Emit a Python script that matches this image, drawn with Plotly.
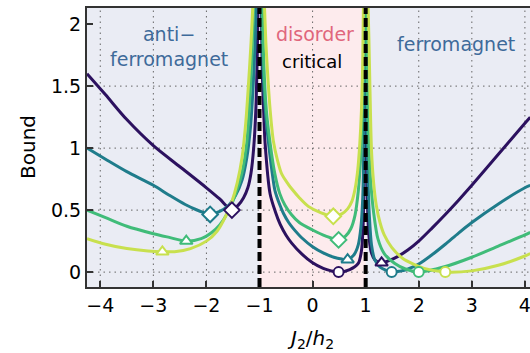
import plotly.graph_objects as go

# ---------------- data ----------------
# each curve has three branches: left (x<-1), middle (-1<x<1), right (x>1)
dark_left_x = [-4.25, -3.9, -3.5, -3.0, -2.5, -2.0, -1.75, -1.52, -1.40, -1.30, -1.22, -1.16, -1.11, -1.07, -1.04, -1.02]
dark_left_y = [1.60, 1.43, 1.23, 1.02, 0.85, 0.68, 0.59, 0.50, 0.54, 0.60, 0.68, 0.80, 1.00, 1.30, 1.80, 2.40]
dark_mid_x = [-0.97, -0.945, -0.92, -0.895, -0.80, -0.70, -0.61, -0.50, -0.39, -0.20, 0.0, 0.20, 0.35, 0.49, 0.70, 0.86, 0.92, 0.95, 0.97, 0.98, 0.99]
dark_mid_y = [2.40, 1.57, 1.28, 1.04, 0.63, 0.485, 0.385, 0.298, 0.232, 0.145, 0.075, 0.03, 0.01, 0.0, 0.02, 0.07, 0.17, 0.35, 0.70, 1.10, 2.40]
dark_right_x = [1.005, 1.015, 1.03, 1.06, 1.10, 1.17, 1.30, 1.45, 1.6, 1.8, 2.0, 2.25, 2.5, 2.75, 3.0, 3.5, 4.0, 4.1]
dark_right_y = [2.40, 1.20, 0.60, 0.30, 0.17, 0.10, 0.075, 0.095, 0.125, 0.18, 0.25, 0.355, 0.465, 0.58, 0.70, 0.95, 1.20, 1.25]

teal_left_x = [-4.25, -3.9, -3.5, -3.0, -2.7, -2.4, -2.2, -2.05, -1.93, -1.75, -1.6, -1.45, -1.33, -1.24, -1.17, -1.12, -1.08, -1.05]
teal_left_y = [1.00, 0.91, 0.81, 0.70, 0.62, 0.545, 0.505, 0.48, 0.465, 0.49, 0.53, 0.62, 0.74, 0.92, 1.17, 1.50, 1.90, 2.40]
teal_mid_x = [-0.965, -0.93, -0.88, -0.83, -0.77, -0.71, -0.62, -0.55, -0.45, -0.37, -0.2, 0.0, 0.2, 0.4, 0.55, 0.66, 0.78, 0.86, 0.91, 0.945, 0.965, 0.98, 0.99]
teal_mid_y = [2.40, 1.60, 1.25, 1.04, 0.83, 0.66, 0.545, 0.475, 0.40, 0.355, 0.275, 0.205, 0.155, 0.12, 0.105, 0.10, 0.14, 0.22, 0.36, 0.60, 1.00, 1.60, 2.40]
teal_right_x = [1.01, 1.025, 1.04, 1.07, 1.11, 1.17, 1.27, 1.49, 1.65, 1.8, 2.0, 2.25, 2.5, 2.75, 3.0, 3.5, 4.0, 4.1]
teal_right_y = [2.40, 1.30, 0.80, 0.45, 0.22, 0.10, 0.04, 0.0, 0.008, 0.025, 0.065, 0.14, 0.225, 0.315, 0.40, 0.55, 0.68, 0.70]

green_left_x = [-4.25, -3.9, -3.5, -3.0, -2.7, -2.38, -2.1, -1.9, -1.75, -1.6, -1.45, -1.33, -1.24, -1.17, -1.13, -1.10]
green_left_y = [0.50, 0.44, 0.37, 0.31, 0.28, 0.25, 0.27, 0.32, 0.38, 0.48, 0.63, 0.80, 1.04, 1.50, 1.90, 2.40]
green_mid_x = [-0.955, -0.92, -0.87, -0.80, -0.71, -0.62, -0.52, -0.4, -0.25, 0.0, 0.25, 0.49, 0.62, 0.72, 0.80, 0.86, 0.90, 0.93, 0.955, 0.975]
green_mid_y = [2.40, 1.70, 1.30, 1.04, 0.79, 0.635, 0.54, 0.465, 0.40, 0.34, 0.29, 0.26, 0.29, 0.35, 0.46, 0.65, 0.88, 1.20, 1.60, 2.40]
green_right_x = [1.015, 1.03, 1.06, 1.10, 1.15, 1.23, 1.35, 1.55, 1.75, 2.0, 2.5, 3.0, 3.5, 4.0, 4.1]
green_right_y = [2.40, 1.50, 1.00, 0.70, 0.48, 0.27, 0.15, 0.07, 0.025, 0.0, 0.045, 0.12, 0.21, 0.30, 0.32]

yellow_left_x = [-4.25, -3.9, -3.5, -3.1, -2.83, -2.6, -2.3, -2.0, -1.8, -1.65, -1.52, -1.42, -1.33, -1.26, -1.21, -1.16, -1.12, -1.10]
yellow_left_y = [0.27, 0.225, 0.19, 0.17, 0.164, 0.165, 0.19, 0.25, 0.33, 0.44, 0.57, 0.72, 0.92, 1.20, 1.50, 1.85, 2.20, 2.40]
yellow_mid_x = [-0.93, -0.88, -0.84, -0.80, -0.74, -0.66, -0.58, -0.46, -0.39, -0.25, -0.08, 0.15, 0.39, 0.55, 0.66, 0.74, 0.80, 0.85, 0.89, 0.92, 0.945, 0.965]
yellow_mid_y = [2.40, 1.85, 1.55, 1.31, 1.06, 0.90, 0.79, 0.71, 0.67, 0.60, 0.53, 0.48, 0.45, 0.47, 0.51, 0.57, 0.67, 0.82, 1.04, 1.30, 1.70, 2.40]
yellow_right_x = [1.03, 1.06, 1.08, 1.11, 1.15, 1.20, 1.27, 1.35, 1.49, 1.7, 1.87, 2.1, 2.5, 3.0, 3.5, 4.0, 4.1]
yellow_right_y = [2.40, 1.90, 1.50, 0.98, 0.72, 0.54, 0.40, 0.30, 0.20, 0.11, 0.07, 0.03, 0.0, 0.01, 0.055, 0.13, 0.15]

# minima markers: (x, y, symbol) per curve
dark_marks = [(-1.52, 0.50, "diamond"), (0.49, 0.0, "circle"), (1.30, 0.075, "triangle-up")]
teal_marks = [(-1.93, 0.465, "diamond"), (0.66, 0.10, "triangle-up"), (1.49, 0.0, "circle")]
green_marks = [(-2.38, 0.25, "triangle-up"), (0.49, 0.26, "diamond"), (2.0, 0.0, "circle")]
yellow_marks = [(-2.83, 0.164, "triangle-up"), (0.39, 0.45, "diamond"), (2.5, 0.0, "circle")]

x_ticks = [-4, -3, -2, -1, 0, 1, 2, 3, 4]
y_ticks = [0, 0.5, 1, 1.5, 2]
y_ticktext = ["0", "0.5", "1", "1.5", "2"]
grid_x = [-4, -3, -2, 0, 2, 3, 4]
grid_y = [0, 0.5, 1, 1.5]
critical_x = [-1, 1]

colors = ["#2C115F", "#1F7C8B", "#40BC79", "#C8E04E"]
FONT = "DejaVu Sans"
marker_size = {"diamond": 12, "triangle-up": 11, "circle": 10}

curves = [
    (dark_left_x, dark_left_y, dark_mid_x, dark_mid_y, dark_right_x, dark_right_y, dark_marks),
    (teal_left_x, teal_left_y, teal_mid_x, teal_mid_y, teal_right_x, teal_right_y, teal_marks),
    (green_left_x, green_left_y, green_mid_x, green_mid_y, green_right_x, green_right_y, green_marks),
    (yellow_left_x, yellow_left_y, yellow_mid_x, yellow_mid_y, yellow_right_x, yellow_right_y, yellow_marks),
]

fig = go.Figure()

for (lx, ly, mx, my, rx, ry, marks), col in zip(curves, colors):
    xs = list(lx) + [None] + list(mx) + [None] + list(rx)
    ys = list(ly) + [None] + list(my) + [None] + list(ry)
    fig.add_trace(go.Scatter(x=xs, y=ys, mode="lines", connectgaps=False,
                             line=dict(color=col, width=3, shape="spline", smoothing=0.8),
                             showlegend=False, hoverinfo="skip"))

for (lx, ly, mx, my, rx, ry, marks), col in zip(curves, colors):
    for (mx_, my_, sym) in marks:
        fig.add_trace(go.Scatter(x=[mx_], y=[my_], mode="markers",
                                 marker=dict(symbol=sym, size=marker_size[sym], color="white",
                                             line=dict(color=col, width=2)),
                                 showlegend=False, hoverinfo="skip"))

shapes = []
# pink disorder region
shapes.append(dict(type="rect", xref="x", yref="paper", x0=critical_x[0], x1=critical_x[1], y0=0, y1=1,
                   fillcolor="#FDEBED", line=dict(width=0), layer="below"))
for gx in grid_x:
    shapes.append(dict(type="line", xref="x", yref="paper", x0=gx, x1=gx, y0=0, y1=1,
                       line=dict(color="#666666", width=1, dash="1.5px,4px"), layer="below"))
for gy in grid_y:
    shapes.append(dict(type="line", xref="paper", yref="y", x0=0, x1=1, y0=gy, y1=gy,
                       line=dict(color="#666666", width=1, dash="1.5px,4px"), layer="below"))
for cx in critical_x:
    shapes.append(dict(type="line", xref="x", yref="paper", x0=cx, x1=cx, y0=0, y1=1,
                       line=dict(color="black", width=4, dash="9px,4px"), layer="above"))

annotations = [
    dict(text="anti−<br>ferromagnet", x=-2.705, y=1.821, xref="x", yref="y", showarrow=False,
         font=dict(family=FONT, size=19, color="#3E6A9A"), xanchor="center", yanchor="middle"),
    dict(text="disorder", x=0.04, y=1.924, xref="x", yref="y", showarrow=False,
         font=dict(family=FONT, size=19, color="#E0667C"), xanchor="center", yanchor="middle"),
    dict(text="critical", x=-0.017, y=1.702, xref="x", yref="y", showarrow=False,
         font=dict(family=FONT, size=18, color="black"), xanchor="center", yanchor="middle"),
    dict(text="ferromagnet", x=2.70, y=1.843, xref="x", yref="y", showarrow=False,
         font=dict(family=FONT, size=19, color="#3E6A9A"), xanchor="center", yanchor="middle"),
    dict(text="<i>J</i><sub>2</sub>/<i>h</i><sub>2</sub>", x=-0.03, y=-0.132, xref="x", yref="paper",
         showarrow=False, font=dict(family=FONT, size=20, color="black"), xanchor="center", yanchor="top"),
    dict(text="Bound", x=-0.1332, y=0.502, xref="paper", yref="paper", textangle=-90, showarrow=False,
         font=dict(family=FONT, size=20, color="black"), xanchor="center", yanchor="middle"),
]

fig.update_layout(
    width=530, height=353, autosize=False,
    margin=dict(l=87, r=0, t=8, b=66, pad=0),
    paper_bgcolor="white", plot_bgcolor="#EAECF4",
    shapes=shapes, annotations=annotations,
    font=dict(family=FONT, size=19, color="black"),
    xaxis=dict(range=[-4.25, 4.096], tickvals=x_ticks, showgrid=False, zeroline=False,
               showline=True, linecolor="#333333", linewidth=2, mirror=True,
               ticks="inside", ticklen=6, tickwidth=1.5, tickcolor="#333333",
               ticklabeloverflow="allow",
               tickfont=dict(family=FONT, size=19, color="black")),
    yaxis=dict(range=[-0.12, 2.13], tickvals=y_ticks, ticktext=y_ticktext, showgrid=False, zeroline=False,
               showline=True, linecolor="#333333", linewidth=2, mirror=False,
               ticks="inside", ticklen=6, tickwidth=1.5, tickcolor="#333333",
               tickfont=dict(family=FONT, size=19, color="black")),
)

fig.write_html("out.html", config={"displayModeBar": False},
               post_script="document.body.style.margin='0';document.body.style.overflow='hidden';")
